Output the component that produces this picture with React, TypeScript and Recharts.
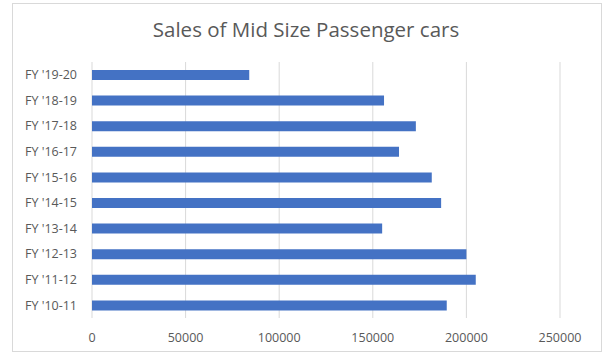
import { Bar, BarChart, CartesianGrid, XAxis, YAxis } from "recharts";

const years = [
  "FY '10-11",
  "FY '11-12",
  "FY '12-13",
  "FY '13-14",
  "FY '14-15",
  "FY '15-16",
  "FY '16-17",
  "FY '17-18",
  "FY '18-19",
  "FY '19-20",
];
const sales = [189500, 205000, 200000, 155000, 186500, 181500, 164000, 173000, 156000, 84000];
const xTicks = [0, 50000, 100000, 150000, 200000, 250000];

const data = years.map((year, i) => ({ year, sales: sales[i] }));

const FONT = "'Open Sans', 'Noto Sans', sans-serif";

export default function App() {
  return (
    <div style={{ position: "absolute", left: 0, top: 0, width: 606, height: 354, background: "#fff" }}>
      <div
        style={{
          position: "absolute",
          left: 12,
          top: 3,
          width: 588,
          height: 347,
          border: "1px solid #d9d9d9",
        }}
      />
      <div
        style={{
          position: "absolute",
          left: 0,
          top: 15,
          width: 612,
          textAlign: "center",
          fontFamily: FONT,
          fontSize: 20.5,
          color: "#595959",
        }}
      >
        Sales of Mid Size Passenger cars
      </div>
      <div style={{ position: "absolute", left: 0, top: 0 }}>
        <BarChart
          width={606}
          height={354}
          data={data}
          layout="vertical"
          margin={{ top: 62, right: 46, bottom: 0, left: 4 }}
          barCategoryGap={0}
        >
          <CartesianGrid horizontal={false} stroke="#d9d9d9" />
          <XAxis
            type="number"
            domain={[0, 250000]}
            ticks={xTicks}
            axisLine={false}
            tickLine={false}
            tickMargin={9}
            height={36}
            tick={{ fill: "#595959", fontSize: 12.5, fontFamily: FONT }}
          />
          <YAxis
            type="category"
            dataKey="year"
            reversed
            width={88}
            axisLine={false}
            tickLine={false}
            tickMargin={9}
            tick={{ fill: "#595959", fontSize: 12.5, fontFamily: FONT }}
          />
          <Bar dataKey="sales" fill="#4472c4" barSize={10} isAnimationActive={false} />
        </BarChart>
      </div>
    </div>
  );
}
